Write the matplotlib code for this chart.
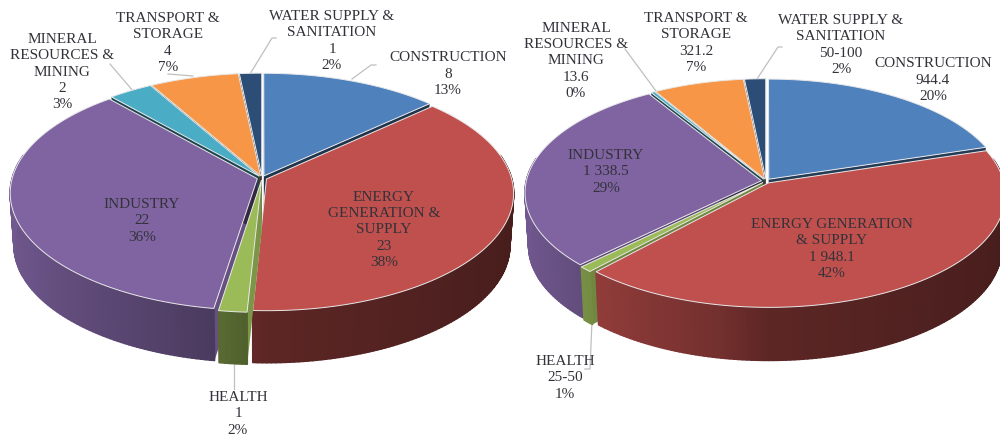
import numpy as np
import matplotlib
matplotlib.use('Agg')
import matplotlib.pyplot as plt
from matplotlib.collections import PolyCollection

plt.rcParams['font.family'] = ['Liberation Serif', 'DejaVu Serif']

# data
sectors = ['CONSTRUCTION', 'ENERGY GENERATION & SUPPLY', 'HEALTH', 'INDUSTRY',
           'MINERAL RESOURCES & MINING', 'TRANSPORT & STORAGE', 'WATER SUPPLY & SANITATION']
counts = [8, 23, 1, 22, 2, 4, 1]
count_labels = ['8', '23', '1', '22', '2', '4', '1']
count_pcts = ['13%', '38%', '2%', '36%', '3%', '7%', '2%']
amounts = [944.4, 1948.1, 37.5, 1338.5, 13.6, 321.2, 75]  # ranges 25-50 and 50-100 taken at the middle
amount_labels = ['944.4', '1 948.1', '25-50', '1 338.5', '13.6', '321.2', '50-100']
amount_pcts = ['20%', '42%', '1%', '29%', '0%', '7%', '2%']

colors = ['#4f81bd', '#c0504d', '#9bbb59', '#8064a2', '#4bacc6', '#f79646', '#2c4d75']

# how each sector name is broken over lines on each pie
left_names = ['CONSTRUCTION', 'ENERGY\nGENERATION &\nSUPPLY', 'HEALTH', 'INDUSTRY',
              'MINERAL\nRESOURCES &\nMINING', 'TRANSPORT &\nSTORAGE', 'WATER SUPPLY &\nSANITATION']
right_names = ['CONSTRUCTION', 'ENERGY GENERATION\n& SUPPLY', 'HEALTH', 'INDUSTRY',
               'MINERAL\nRESOURCES &\nMINING', 'TRANSPORT &\nSTORAGE', 'WATER SUPPLY &\nSANITATION']

left_label_pos = [(448, 74), (384, 230), (238, 414), (142, 221), (62, 72), (168, 43), (332, 41)]
right_label_pos = [(933, 80), (832, 249), (565, 378), (606, 172), (576, 61), (696, 43), (841, 45)]

left_leaders = [[(352, 80), (371, 66), (376, 66)], [(250, 75), (272, 39), (276, 39)],
                [(133, 92), (110, 65)], [(193, 77), (168, 75)], [(234, 365), (234, 390)]]
right_leaders = [[(757, 80), (778, 48), (782, 48)], [(656, 92), (625, 50)],
                 [(592, 322), (590, 370), (585, 370)]]

fig = plt.figure(figsize=(10, 4.35), dpi=100)
ax = fig.add_axes([0, 0, 1, 1])
ax.set_xlim(0, 1000)
ax.set_ylim(435, 0)
ax.axis('off')


def project(x, y, pie, bottom=False):
    # circle in the pie plane -> picture, with a little perspective
    w = 1 + pie['k'] * y
    scale = 0.985 if bottom else 1.0
    px = pie['cx'] + pie['sx'] * x / w * scale
    py = pie['cy'] - pie['sy'] * y / w + (pie['depth'] if bottom else 0)
    return np.column_stack([px, py])


def wall_shade(nx):
    # side walls get darker from left to right
    return np.interp(nx, [-1, -0.7, -0.2, 0, 1], [0.88, 0.76, 0.6, 0.48, 0.37])


def draw_pie(values, pie):
    values = np.array(values, dtype=float)
    edges = np.concatenate([[0], np.cumsum(values)]) / values.sum() * 2 * np.pi
    slices = []
    for i in range(len(values)):
        mid = (edges[i] + edges[i + 1]) / 2
        slices.append((np.cos(mid), i, edges[i], edges[i + 1], mid))
    # paint from the back of the pie to the front
    slices.sort(key=lambda s: -s[0])

    for _, i, a0, a1, mid in slices:
        rgb = np.array(matplotlib.colors.to_rgb(colors[i]))
        ox = pie['explode'] * np.sin(mid)
        oy = pie['explode'] * np.cos(mid)
        t = np.linspace(a0, a1, max(4, int((a1 - a0) * 60)))
        xs = ox + np.sin(t)
        ys = oy + np.cos(t)
        apex_x = np.array([ox])
        apex_y = np.array([oy])

        # the two cut faces, lighter when they turn towards the front
        for a in (a0, a1):
            fx = np.array([ox, ox + np.sin(a)])
            fy = np.array([oy, oy + np.cos(a)])
            top = project(fx, fy, pie)
            low = project(fx, fy, pie, bottom=True)
            face_shade = np.interp(np.cos(a), [-1, 0.5], [0.8, 0.4])
            ax.fill(np.r_[top[:, 0], low[::-1, 0]], np.r_[top[:, 1], low[::-1, 1]],
                    color=rgb * face_shade, lw=0, zorder=2)

        # outer wall, only where it faces the viewer
        top = project(xs, ys, pie)
        low = project(xs, ys, pie, bottom=True)
        quads = []
        quad_colors = []
        for j in range(len(t) - 1):
            if ys[j] - oy > 0.2 and ys[j + 1] - oy > 0.2:
                continue
            quads.append([top[j], top[j + 1], low[j + 1], low[j]])
            quad_colors.append(rgb * wall_shade((np.sin(t[j]) + np.sin(t[j + 1])) / 2))
        if quads:
            ax.add_collection(PolyCollection(quads, facecolors=quad_colors,
                                             edgecolors=quad_colors, linewidths=1.2, zorder=2))

        # top face
        face = project(np.r_[apex_x, xs], np.r_[apex_y, ys], pie)
        ax.fill(face[:, 0], face[:, 1], facecolor=rgb, edgecolor='#e8e8e8', lw=0.7,
                joinstyle='round', zorder=2)


def draw_labels(names, value_labels, pcts, positions, leaders):
    for line in leaders:
        pts = np.array(line)
        ax.plot(pts[:, 0], pts[:, 1], color='#bfbfbf', lw=0.9, zorder=1)
    line_step = 16.3
    for name, val, pct, (x, y) in zip(names, value_labels, pcts, positions):
        # one text per line, the blocks interlock at the top right of each pie
        lines = name.split('\n') + [val, pct]
        first = y - line_step * (len(lines) - 1) / 2
        for n, line in enumerate(lines):
            ax.text(x, first + n * line_step, line, ha='center', va='center',
                    fontsize=11, color='#33323a', zorder=5)


left_pie = dict(cx=262, cy=179, sx=245, sy=115.5, k=0.121, depth=52, explode=0.02)
right_pie = dict(cx=766, cy=182, sx=235, sy=111, k=0.105, depth=53, explode=0.02)

draw_labels(left_names, count_labels, count_pcts, left_label_pos, left_leaders)
draw_labels(right_names, amount_labels, amount_pcts, right_label_pos, right_leaders)
draw_pie(counts, left_pie)
draw_pie(amounts, right_pie)

fig.savefig('out.png', dpi=100)
